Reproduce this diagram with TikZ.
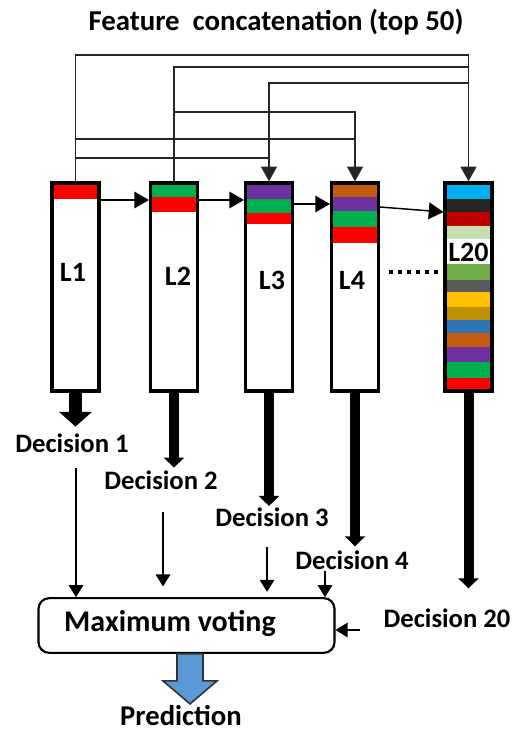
\documentclass[tikz,border=0pt]{standalone}
\usepackage{fontspec}
\setmainfont{Carlito}
\usetikzlibrary{arrows.meta,calc,backgrounds}

\definecolor{cRed}{HTML}{FF0000}
\definecolor{cGreen}{HTML}{00B050}
\definecolor{cPurple}{HTML}{7030A0}
\definecolor{cOrange}{HTML}{C55A11}
\definecolor{cSky}{HTML}{00B0F0}
\definecolor{cBlack}{HTML}{262626}
\definecolor{cDarkRed}{HTML}{C00000}
\definecolor{cPale}{HTML}{C5E0B4}
\definecolor{cLeaf}{HTML}{70AD47}
\definecolor{cGrey}{HTML}{595959}
\definecolor{cGold}{HTML}{FFC000}
\definecolor{cOchre}{HTML}{BF9000}
\definecolor{cSteel}{HTML}{2E75B6}
\definecolor{cArrow}{HTML}{5B9BD5}

\tikzset{
  layerbox/.style={draw, line width=2.6pt, minimum width=35pt, minimum height=156pt, inner sep=0pt},
  lbl/.style={font=\bfseries\fontsize{20}{24}\selectfont, inner sep=0pt},
  feedline/.style={line width=1.1pt, draw=black!85},
  feedarrow/.style={feedline, -{Triangle[length=11pt,width=12pt]}},
  steparrow/.style={line width=1.1pt, -{Triangle[length=11pt,width=12.5pt]}},
  decarrow/.style={line width=7.5pt, -{Triangle[length=7.5pt,width=15pt]}},
  bigdecarrow/.style={line width=9.75pt, -{Triangle[length=11pt,width=24pt]}},
  votearrow/.style={line width=0.9pt, -{Triangle[length=9pt,width=11pt]}},
  predarrow/.style={fill=cArrow, draw=black!80, line width=1.2pt, line join=miter},
}

\begin{document}
\begin{tikzpicture}[x=0.75pt,y=-0.75pt]
    \useasboundingbox (0,0) rectangle (525,734);

    % Title
    \node[lbl, font=\bfseries\fontsize{21.6}{26}\selectfont] (title) at (276,22) {Feature\ \ concatenation (top 50)};

    % Layer boxes
    \node[layerbox] (l1) at (75.5,287) {};
    \node[layerbox] (l2) at (174,287) {};
    \node[layerbox] (l3) at (269,287) {};
    \node[layerbox] (l4) at (355,287) {};
    \node[layerbox] (l20) at (468.5,287) {};

    % Colour bands
    \begin{scope}[on background layer]
      \foreach \ya/\yb/\col in {183/199/cRed}
        \fill[\col] (l1.west |- 0,\ya) rectangle (l1.east |- 0,\yb);
      \foreach \ya/\yb/\col in {183/197/cGreen, 197/212/cRed}
        \fill[\col] (l2.west |- 0,\ya) rectangle (l2.east |- 0,\yb);
      \foreach \ya/\yb/\col in {183/199/cPurple, 199/213/cGreen, 213/224/cRed}
        \fill[\col] (l3.west |- 0,\ya) rectangle (l3.east |- 0,\yb);
      \foreach \ya/\yb/\col in {183/197/cOrange, 197/211/cPurple, 211/227/cGreen, 227/243/cRed}
        \fill[\col] (l4.west |- 0,\ya) rectangle (l4.east |- 0,\yb);
      \foreach \ya/\yb/\col in {183/199/cSky, 199/212/cBlack, 212/226/cDarkRed, 226/239/cPale,
          264/280/cLeaf, 280/292/cGrey, 292/307/cGold, 307/320/cOchre, 320/333/cSteel,
          333/347/cOrange, 347/362/cPurple, 362/378/cGreen, 378/391/cRed}
        \fill[\col] (l20.west |- 0,\ya) rectangle (l20.east |- 0,\yb);
    \end{scope}

    % Layer labels
    \node[lbl, font=\bfseries\fontsize{21}{25}\selectfont] (t1) at (73,272) {L1};
    \node[lbl, font=\bfseries\fontsize{21}{25}\selectfont] (t2) at (178,276) {L2};
    \node[lbl, font=\bfseries\fontsize{21}{25}\selectfont] (t3) at (272,280) {L3};
    \node[lbl, font=\bfseries\fontsize{21}{25}\selectfont] (t4) at (352,280) {L4};
    \node[lbl, font=\bfseries\fontsize{21}{25}\selectfont] (t20) at (468.5,252) {L20};
    \draw[line width=3pt, dash pattern=on 3pt off 3.8pt] (389,272) -- (442,272);

    % Feature links on top
    \coordinate (r1) at (0,55);
    \coordinate (r2) at (0,67);
    \coordinate (r3) at (0,83);
    \coordinate (r4) at (0,112);
    \coordinate (r5) at (0,139);
    \coordinate (r6) at (0,158);
    \draw[feedarrow] (l1.north) -- (l1.north |- r1) -| (l20.north);
    \draw[feedline] (l2.north) -- (l2.north |- r2) -- (l20.north |- r2);
    \draw[feedarrow] (l20.north |- r3) -| (l3.north);
    \draw[feedarrow] (l2.north |- r4) -| (l4.north);
    \draw[feedline] (l1.north |- r5) -- (l4.north |- r5);
    \draw[feedline] (l1.north |- r6) -- (l3.north |- r6);

    % Box to box
    \coordinate (h1) at (0,200);
    \coordinate (h2) at (0,204);
    \coordinate (h3) at (0,207);
    \coordinate (h4) at (0,212);
    \draw[steparrow] (l1.east |- h1) -- (l2.west |- h1);
    \draw[steparrow] (l2.east |- h1) -- (l3.west |- h1);
    \draw[steparrow] (l3.east |- h2) -- (l4.west |- h2);
    \draw[steparrow] (l4.east |- h3) -- (l20.west |- h4);

    % Decisions
    \node[lbl] (d1) at (72,443) {Decision 1};
    \node[lbl] (d2) at (161,480) {Decision 2};
    \node[lbl] (d3) at (272,517) {Decision 3};
    \node[lbl] (d4) at (352,560) {Decision 4};
    \node[lbl] (d20) at (447,618) {Decision 20};
    \draw[bigdecarrow, shorten >=5pt] (l1.south) -- (l1.south |- d1.north);
    \draw[decarrow, shorten >=2pt] (l2.south) -- (l2.south |- d2.north);
    \draw[decarrow, shorten >=1pt] (l3.south) -- (l3.south |- d3.north);
    \draw[decarrow, shorten >=3pt] (l4.south) -- (l4.south |- d4.north);
    \draw[decarrow, shorten >=15pt] (l20.south) -- (l20.south |- d20.north);

    % Voting
    \node[draw, line width=1.6pt, rounded corners=8pt, minimum width=222pt, minimum height=41pt] (maxvote) at (186.5,625.5) {};
    \node[lbl, font=\bfseries\fontsize{22.5}{27}\selectfont] (votetxt) at (170,623) {Maximum voting};
    \coordinate (v1) at (76,468);
    \coordinate (v2) at (163,512);
    \coordinate (v3) at (267,547);
    \coordinate (v4) at (325,571);
    \coordinate (v20) at (360,630);
    \draw[votearrow] (v1) -- (v1 |- maxvote.north);
    \draw[votearrow, shorten >=8pt] (v2) -- (v2 |- maxvote.north);
    \draw[votearrow, shorten >=4pt] (v3) -- (v3 |- maxvote.north);
    \draw[votearrow] (v4) -- (v4 |- maxvote.north);
    \draw[votearrow] (v20) -- (v20 -| maxvote.east);

    % Prediction
    \draw[predarrow] ($(maxvote.south)+(-9.5,0)$) -- ++(0,27) -- ++(-14,0) -- ++(27,23)
      -- ++(27,-23) -- ++(-14,0) -- ++(0,-27) -- cycle;
    \node[lbl, font=\bfseries\fontsize{21.5}{26}\selectfont] (pred) at (181,716) {Prediction};
\end{tikzpicture}
\end{document}
